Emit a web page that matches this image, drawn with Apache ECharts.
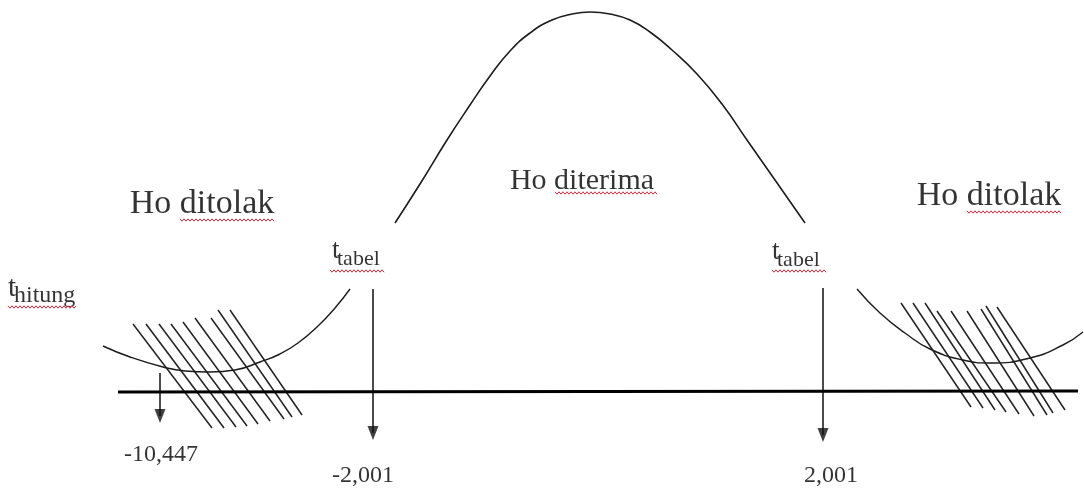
<!DOCTYPE html>
<html>
<head>
<meta charset="utf-8">
<script src="https://cdn.jsdelivr.net/npm/echarts@6/dist/echarts.min.js"></script>
<style>
  html, body { margin: 0; padding: 0; background: #fff; }
  #main { width: 1084px; height: 489px; }
</style>
</head>
<body>
<div id="main"></div>
<script>
  // kurva distribusi t, titik (satuan = koordinat diagram)
  const bellCurve = [[395,223],[420,184],[447,140],[470,105],[490,76],[510,51],[530,33],[552,20],[572,14],[590,12],[610,14],[630,20],[650,32],[672,50],[697,74],[722,104],[747,140],[775,180],[805,223]]
  const leftTail = [[103,346],[130,357],[163,367],[185,371],[210,372],[235,370],[260,362],[280,354],[298,343],[318,326],[335,308],[350,289]]
  const rightTail = [[857,289],[880,313],[905,333],[930,349],[963,360],[990,363],[1030,358],[1063,345],[1083,332]]
  const baseLine = [[118,392],[1078,391]]

  // arsiran daerah penolakan: [atas, bawah]
  const leftHatch = [
    [[133,324],[212,428]], [[146,324],[224,428]], [[159,324],[236,427]],
    [[171,324],[247,426]], [[183,322],[258,424]], [[195,318],[270,421]],
    [[211,318],[284,419]], [[218,310],[292,417]], [[230,310],[302,415]]
  ]
  const rightHatch = [
    [[901,303],[971,407]], [[913,303],[983,408]], [[925,303],[995,410]],
    [[937,311],[1006,412]], [[951,311],[1019,414]], [[967,311],[1034,416]],
    [[981,309],[1047,415]], [[986,306],[1053,413]], [[997,307],[1065,410]]
  ]

  // panah nilai t
  const arrowX = [160, 373, 823]
  const arrowTop = [373, 289, 288]
  const arrowTip = [423, 440, 442]
  const tValues = ['-10,447', '-2,001', '2,001']
  const tValuePos = [[161,455], [363,476], [831,476]]

  // teks keterangan
  const regionText = ['Ho ditolak', 'Ho diterima', 'Ho ditolak']
  const regionPos = [[202,204], [582,181], [989,196]]
  const symText = [['t', 'hitung'], ['t', 'tabel'], ['t', 'tabel']]
  const symPos = [[8,288], [332,251], [772,252]]

  // garis bergelombang merah (penanda ejaan): [x1, x2, y]
  const squiggles = [[180,275,220],[967,1062,212],[555,657,193],[330,384,271],[772,826,271],[8,76,307]]

  const serif = '"Liberation Serif", "Times New Roman", serif'
  const ink = '#1c1c1c'

  const chart = echarts.init(document.getElementById('main'))

  const textItems = []
  regionText.forEach((t, i) => {
    textItems.push({ value: regionPos[i], label: { formatter: t, fontSize: i === 1 ? 30 : 34, align: 'center' } })
  })
  tValues.forEach((t, i) => {
    textItems.push({ value: tValuePos[i], label: { formatter: t, fontSize: 24, align: 'center' } })
  })
  symText.forEach((s, i) => {
    const big = i === 0 ? 29 : 27
    const small = i === 0 ? 24 : 22
    const p = symPos[i]
    textItems.push({ value: p, label: { formatter: s[0], fontSize: big, align: 'left' } })
    textItems.push({ value: [p[0] + (i === 0 ? 6 : 5), p[1] + 8], label: { formatter: s[1], fontSize: small, align: 'left' } })
  })

  const hatchData = leftHatch.concat(rightHatch).map(c => ({ coords: c }))
  const shaftData = arrowX.map((x, i) => ({ coords: [[x, arrowTop[i]], [x, arrowTip[i] - 7]] }))
  const headData = arrowX.map((x, i) => [x, arrowTip[i] - 7])

  chart.setOption({
    animation: false,
    backgroundColor: '#fff',
    grid: { left: 0, right: 0, top: 0, bottom: 0 },
    xAxis: { type: 'value', min: 0, max: 1084, show: false },
    yAxis: { type: 'value', min: 0, max: 489, inverse: true, show: false },
    series: [
      { name: 'bell', type: 'line', data: bellCurve, smooth: 0.5, symbol: 'none', lineStyle: { color: ink, width: 1.6 } },
      { name: 'leftTail', type: 'line', data: leftTail, smooth: 0.5, symbol: 'none', lineStyle: { color: ink, width: 1.4 } },
      { name: 'rightTail', type: 'line', data: rightTail, smooth: 0.5, symbol: 'none', lineStyle: { color: ink, width: 1.4 } },
      { name: 'axis', type: 'line', data: baseLine, symbol: 'none', lineStyle: { color: '#000', width: 3 } },
      {
        name: 'hatch', type: 'lines', coordinateSystem: 'cartesian2d', data: hatchData,
        lineStyle: { color: '#222', width: 1.5, opacity: 1, curveness: 0 }
      },
      {
        name: 'shaft', type: 'lines', coordinateSystem: 'cartesian2d', data: shaftData,
        lineStyle: { color: '#111', width: 1.5, opacity: 1, curveness: 0 }
      },
      {
        name: 'head', type: 'scatter', data: headData, symbol: 'triangle', symbolSize: [11, 14],
        symbolRotate: 180, itemStyle: { color: '#111' }
      },
      {
        name: 'text', type: 'scatter', data: textItems, symbolSize: 0, itemStyle: { color: '#000' },
        label: {
          show: true, position: 'inside', verticalAlign: 'middle', color: '#000',
          textBorderWidth: 0, fontFamily: serif
        }
      }
    ]
  })

  // garis bergelombang merah di bawah kata
  const graphics = squiggles.map(s => {
    const pts = []
    let k = 0
    for (let x = s[0]; x <= s[1]; x += 2, k++) {
      const p = chart.convertToPixel({ gridIndex: 0 }, [x, s[2]])
      pts.push([p[0], p[1] + (k % 2 ? 1.2 : -1.2)])
    }
    return { type: 'polyline', shape: { points: pts }, style: { stroke: '#d8283c', lineWidth: 1, fill: null }, z: 10 }
  })
  chart.setOption({ graphic: graphics })
</script>
</body>
</html>
